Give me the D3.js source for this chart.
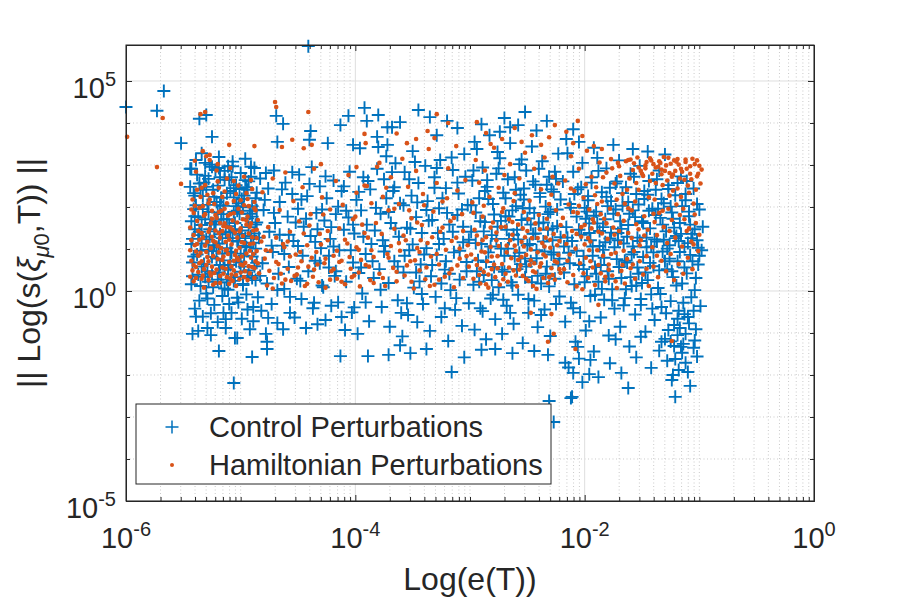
<!DOCTYPE html>
<html><head><meta charset="utf-8">
<script src="https://cdn.jsdelivr.net/npm/d3@7"></script>
<style>
body{margin:0;background:#fff}
svg{display:block}
text{font-family:"Liberation Sans",Arial,Helvetica,sans-serif;fill:#262626}
</style>
</head><body>
<svg id="chart" width="900" height="600"></svg>
<script>
// ---- tick labels (exponents of 10) ----
const xTickExps = [-6, -4, -2, 0];
const yTickExps = [-5, 0, 5];
const legendLabels = ["Control Perturbations", "Hamiltonian Perturbations"];
const xTitle = "Log(e(T))";

// ---- data: [log10 e(T), log10 ||Log(s)||] ----
const controlLog = [
[-5.44,2.91],[-5.43,1.12],[-5.42,0.35],[-5.41,2.33],[-5.40,-0.42],[-5.40,1.78],[-5.39,3.12],[-5.38,0.87],[-5.37,-0.95],[-5.36,2.56],[-5.36,1.41],[-5.35,0.12],[-5.34,3.28],[-5.33,1.95],[-5.33,-0.61],[-5.32,0.64],[-5.31,2.74],[-5.30,1.23],[-5.29,-0.18],[-5.29,2.05],[-5.28,0.98],[-5.27,3.01],[-5.26,-1.05],[-5.26,1.62],[-5.25,0.41],[-5.24,2.41],[-5.23,-0.33],[-5.23,1.09],[-5.22,2.88],[-5.21,0.77],[-5.20,1.87],[-5.20,-0.74],[-5.19,3.19],[-5.18,1.35],[-5.17,0.21],[-5.17,2.22],[-5.16,-0.12],[-5.15,1.71],[-5.14,2.65],[-5.14,0.55],[-5.13,-0.88],[-5.12,1.02],[-5.11,2.97],[-5.11,0.03],[-5.10,1.54],[-5.09,2.38],[-5.08,-0.52],[-5.08,0.91],[-5.07,3.08],[-5.06,1.88],[-5.05,0.33],[-5.05,-1.12],[-5.04,2.52],[-5.03,1.19],[-5.02,-0.27],[-5.02,2.09],[-5.01,0.68],[-5.00,2.81],[-4.99,1.44],[-4.99,-0.66],[-4.98,0.14],[-4.97,2.27],[-4.96,1.07],[-4.96,3.15],[-4.95,-0.08],[-4.94,1.73],[-4.93,0.49],[-4.93,2.61],[-4.92,-0.91],[-4.91,1.31],[-4.90,2.02],[-4.90,0.82],[-4.89,-0.38],[-4.88,2.93],[-4.87,1.58],[-4.87,0.26],[-4.86,2.34],[-4.85,-0.15],
[-5.43,1.66],[-5.41,0.82],[-5.39,2.04],[-5.37,1.33],[-5.35,2.41],[-5.34,0.58],[-5.31,1.71],[-5.30,2.48],[-5.28,0.22],[-5.27,1.47],[-5.25,2.96],[-5.24,0.95],[-5.22,1.58],[-5.21,2.12],[-5.19,0.44],[-5.18,2.71],[-5.16,0.89],[-5.15,2.03],[-5.13,1.39],[-5.12,0.27],[-5.10,2.64],[-5.09,0.62],[-5.07,1.26],[-5.06,2.45],[-5.04,0.71],[-5.03,1.91],[-5.01,1.36],[-5.00,0.46],[-4.98,1.99],[-4.97,0.84],[-4.95,2.47],[-4.94,0.36],[-4.92,1.84],[-4.91,2.72],[-4.89,1.15],[-4.88,0.59],[-4.86,1.92],
[-5.21,1.04],[-5.38,2.77],[-4.97,0.58],[-5.12,2.33],[-5.43,0.16],[-5.05,1.62],[-4.91,2.96],[-5.29,0.47],[-5.17,1.83],[-5.36,-0.23],[-4.88,1.37],[-5.08,2.71],[-5.24,0.09],[-5.41,1.95],[-4.94,-0.44],[-5.15,0.73],[-5.32,2.58],[-5.02,1.18],[-4.86,0.67],[-5.27,1.29],[-5.44,2.48],[-5.10,-0.31],[-4.99,2.19],[-5.19,2.93],[-5.35,0.96],[-4.93,1.52],[-5.06,0.24],[-5.23,2.24],[-5.40,1.47],[-5.13,-0.67],[-4.90,0.31],[-5.31,3.05],[-5.04,2.02],[-5.18,0.62],[-5.37,1.76],[-4.96,2.64],[-5.26,-0.53],[-5.09,1.41],[-5.42,0.68],[-5.00,0.89],[-5.20,2.51],[-4.87,2.21],[-5.34,1.13],[-5.14,2.86],[-5.03,-0.16],[-5.28,1.88],[-4.95,1.04],[-5.39,-0.61],[-5.11,0.51],[-5.22,1.66],[-4.89,-0.72],[-5.33,2.26],[-5.07,2.97],[-5.16,1.26],[-5.43,2.91],[-4.98,0.17],[-5.25,0.81],[-5.01,2.43],[-5.30,-0.06],[-4.92,1.91],[-5.37,0.39],[-5.12,1.71],[-5.20,0.27],[-5.05,1.47],[-5.34,1.57],[-4.96,1.26],[-5.18,2.04],[-5.28,2.67],[-5.09,0.93],[-5.40,2.27],[-4.90,1.77],[-5.23,1.42],[-5.14,0.06],[-5.01,1.84],[-5.31,0.34],[-4.87,1.01],[-5.42,1.24],[-5.06,2.23],[-5.19,1.13],[-4.94,2.41],
[-5.06,-2.19],[-4.90,-1.57],[-5.19,-1.43],[-4.77,-1.21],[-4.77,-1.38],[-5.03,-1.12],[-5.29,-0.88],[-5.15,-0.52],[-5.42,-1.02],
[-6.00,4.38],[-5.73,4.29],[-5.67,4.76],[-5.52,3.52],[-5.36,4.10],[-5.30,4.19],[-5.25,3.67],
[-4.84,1.27],[-4.83,2.68],[-4.82,-0.47],[-4.81,0.66],[-4.80,1.93],[-4.78,-1.02],[-4.77,0.18],[-4.76,2.44],[-4.75,1.41],[-4.73,-0.31],[-4.72,0.93],[-4.71,2.87],[-4.70,1.62],[-4.68,-0.76],[-4.67,0.41],[-4.66,2.12],[-4.64,1.08],[-4.63,-0.91],[-4.62,0.05],[-4.61,2.58],[-4.59,1.77],[-4.58,0.57],[-4.57,-0.52],[-4.55,2.31],[-4.54,1.19],[-4.53,-0.63],[-4.51,0.29],[-4.50,1.96],[-4.49,2.77],[-4.47,-0.19],[-4.46,0.84],[-4.45,1.53],[-4.43,-0.88],[-4.42,2.26],[-4.41,0.47],[-4.39,1.31],[-4.38,2.95],[-4.37,-0.41],[-4.35,0.72],[-4.34,1.86],[-4.33,-0.79],[-4.31,2.49],[-4.30,1.02],[-4.29,0.13],[-4.27,1.68],[-4.26,-0.69],[-4.25,2.21],[-4.23,0.56],[-4.22,1.24],[-4.21,-0.35],[-4.19,2.63],[-4.18,0.36],[-4.17,1.83],[-4.15,-0.27],[-4.14,0.97],[-4.13,-1.55],[-4.12,2.38],[-4.10,1.46],[-4.09,-0.93],[-4.08,0.22],[-4.06,1.75],[-4.05,2.84],[-4.03,-0.51],[-4.02,0.68],[-4.01,1.37],[-3.99,2.17],[-3.98,-1.02],[-3.97,0.43],[-3.95,1.92],[-3.94,-0.06],[-3.93,2.71],[-3.91,0.88],[-3.90,1.58],[-3.88,-0.72],[-3.87,2.42],[-3.86,1.12],[-3.84,0.31],[-3.89,-1.55],[-3.82,1.98],[-3.81,2.91],
[-4.52,1.63],[-4.17,0.47],[-4.79,2.17],[-3.93,1.29],[-4.36,-0.28],[-4.64,2.42],[-4.08,1.91],[-4.48,0.24],[-3.85,0.71],[-4.73,1.08],[-4.26,2.73],[-4.01,-0.39],[-4.58,1.34],[-4.31,0.66],[-4.83,0.36],[-3.97,2.36],[-4.43,1.72],[-4.12,-0.62],[-4.68,0.02],[-4.21,1.52],[-3.89,2.62],[-4.55,2.83],[-4.35,1.17],[-4.76,-0.64],[-4.04,0.97],[-4.47,2.18],[-3.83,1.44],[-4.62,0.88],[-4.28,0.09],[-4.15,2.01],[-4.71,1.86],[-3.95,0.56],[-4.40,2.55],[-4.19,1.06],[-4.57,-0.14],[-4.86,1.63],[-4.10,2.49],[-4.33,1.47],[-3.91,-0.27],[-4.66,1.34],[-4.23,0.84],[-4.50,1.07],[-4.02,1.58],[-4.78,2.81],[-4.29,1.94],
[-4.69,4.17],[-4.63,3.98],[-4.68,3.55],[-4.39,3.81],[-4.40,3.60],[-4.24,3.52],[-4.13,3.95],[-4.06,4.17],[-3.92,4.36],[-3.80,4.19],[-3.90,4.05],[-3.72,3.90],[-3.81,3.67],[-4.02,3.48],[-3.72,3.48],[-3.96,3.40],[-3.80,3.43],[-4.41,5.83],
[-3.79,0.52],[-3.78,1.84],[-3.77,-0.38],[-3.75,2.66],[-3.74,1.07],[-3.73,3.21],[-3.71,0.19],[-3.70,-0.85],[-3.69,1.62],[-3.67,2.38],[-3.66,0.71],[-3.65,3.04],[-3.63,-0.22],[-3.62,1.29],[-3.61,2.09],[-3.59,-1.08],[-3.58,0.44],[-3.57,2.83],[-3.55,1.51],[-3.54,-0.57],[-3.53,0.97],[-3.51,2.27],[-3.50,3.33],[-3.49,0.08],[-3.47,1.76],[-3.46,-0.74],[-3.45,2.57],[-3.43,0.63],[-3.42,1.38],[-3.41,-0.31],[-3.39,2.98],[-3.38,1.02],[-3.37,2.14],[-3.35,-0.95],[-3.34,0.35],[-3.33,1.69],[-3.31,2.71],[-3.30,-0.14],[-3.29,0.86],[-3.27,1.97],[-3.26,3.12],[-3.25,-0.62],[-3.23,1.24],[-3.22,0.51],[-3.21,2.45],[-3.19,-1.19],[-3.18,1.58],[-3.17,0.02],[-3.15,2.88],[-3.14,0.92],[-3.13,-0.45],[-3.11,1.81],[-3.10,2.32],[-3.09,0.27],[-3.07,-0.83],[-3.06,1.16],[-3.05,3.26],[-3.03,0.69],[-3.02,2.05],[-3.01,-0.29],
[-3.52,1.48],[-3.21,0.71],[-3.68,2.83],[-3.07,1.94],[-3.44,0.23],[-3.76,1.21],[-3.31,2.46],[-3.12,-0.17],[-3.58,2.04],[-3.27,1.12],[-3.63,0.58],[-3.04,2.72],[-3.48,3.07],[-3.18,0.41],[-3.71,1.88],[-3.36,1.67],[-3.09,0.96],[-3.55,-0.29],[-3.24,2.21],[-3.66,2.47],[-3.40,0.87],[-3.15,1.41],[-3.78,0.03],[-3.29,2.93],[-3.03,0.47],[-3.50,1.11],[-3.20,1.86],[-3.60,-0.52],[-3.33,0.62],[-3.11,2.58],[-3.73,2.21],[-3.46,2.11],[-3.22,-0.41],[-3.57,0.84],[-3.06,1.53],[-3.38,1.93],[-3.65,1.49],[-3.16,3.18],[-3.42,-0.07],[-3.28,1.38],[-3.01,1.22],[-3.53,2.66],[-3.75,0.94],[-3.25,0.18],[-3.47,0.44],
[-3.61,4.02],[-3.68,3.90],[-3.35,4.14],[-3.29,3.71],[-3.11,3.88],[-2.96,3.55],[-3.45,4.31],[-3.20,4.05],
[-3.52,-1.48],[-3.38,-1.38],[-3.16,-1.93],[-3.71,-1.52],[-3.05,-1.58],[-3.61,-1.29],
[-2.99,1.41],[-2.98,2.63],[-2.97,0.15],[-2.96,-0.92],[-2.95,1.87],[-2.94,3.38],[-2.93,0.73],[-2.92,2.21],[-2.91,-0.41],[-2.90,1.12],[-2.89,2.94],[-2.88,0.38],[-2.87,1.64],[-2.86,-1.15],[-2.85,2.48],[-2.84,0.92],[-2.83,3.71],[-2.82,-0.18],[-2.81,1.33],[-2.80,2.07],[-2.79,0.57],[-2.78,-0.67],[-2.77,2.79],[-2.76,1.53],[-2.75,0.09],[-2.74,3.16],[-2.73,1.01],[-2.72,-1.02],[-2.71,2.34],[-2.70,0.46],[-2.69,1.78],[-2.68,-0.35],[-2.67,2.66],[-2.66,1.24],[-2.65,3.52],[-2.64,0.21],[-2.63,1.92],[-2.62,-0.78],[-2.61,0.83],[-2.60,2.41],[-2.59,1.46],[-2.58,-0.09],[-2.57,3.02],[-2.56,0.64],[-2.55,1.69],[-2.54,-1.24],[-2.53,2.18],[-2.52,0.33],[-2.51,2.87],[-2.50,1.09],[-2.49,-0.52],[-2.48,1.97],[-2.47,0.71],[-2.46,3.44],[-2.45,1.36],[-2.44,-0.23],[-2.43,2.53],[-2.42,0.97],[-2.41,-0.86],[-2.40,1.61],[-2.39,2.24],[-2.38,0.18],[-2.37,3.09],[-2.36,1.18],[-2.35,-0.44],[-2.34,2.01],[-2.33,0.58],[-2.32,1.83],[-2.31,2.72],[-2.30,-1.07],[-2.29,0.87],[-2.28,1.49],[-2.27,2.36],[-2.26,0.29],[-2.25,-0.31],[-2.24,1.94],[-2.23,3.27],[-2.22,0.77],[-2.21,1.28],
[-2.66,1.77],[-2.41,0.36],[-2.87,2.38],[-2.28,1.21],[-2.55,3.13],[-2.94,0.47],[-2.33,2.53],[-2.71,-0.21],[-2.47,1.58],[-2.82,1.06],[-2.23,0.63],[-2.60,2.02],[-2.38,-0.57],[-2.91,1.66],[-2.52,0.77],[-2.75,2.92],[-2.30,1.88],[-2.63,0.13],[-2.45,2.61],[-2.86,0.69],[-2.21,2.18],[-2.58,1.23],[-2.97,2.87],[-2.35,0.94],[-2.68,1.46],[-2.49,-0.19],[-2.79,1.82],[-2.26,2.84],[-2.54,1.97],[-2.89,-0.48],[-2.43,1.37],[-2.72,0.51],[-2.31,0.11],[-2.61,2.71],[-2.84,2.19],[-2.24,1.54],[-2.51,0.58],[-2.77,1.24],[-2.39,2.33],[-2.95,1.14],[-2.65,-0.52],[-2.29,2.42],[-2.57,0.91],[-2.81,0.26],[-2.44,1.86],[-2.69,2.21],[-2.36,1.63],[-2.92,0.22],[-2.53,2.44],[-2.22,-0.13],[-2.76,3.31],[-2.48,1.12],[-2.62,1.34],[-2.34,0.41],[-2.88,1.42],[-2.56,2.29],[-2.42,0.78],[-2.73,1.67],[-2.27,0.92],[-2.99,2.04],[-2.59,0.52],[-2.40,2.91],[-2.80,-0.09],[-2.46,0.21],[-2.67,1.01],[-2.32,1.46],[-2.85,2.64],[-2.50,1.73],[-2.25,2.67],[-2.70,0.84],
[-2.74,3.79],[-2.65,3.90],[-2.70,4.12],[-2.58,3.95],[-2.42,3.82],[-2.90,3.97],[-2.33,4.05],[-2.52,4.26],
[-2.90,-1.40],[-2.63,-1.48],[-2.44,-1.43],[-2.32,-1.52],[-2.17,-1.71],[-2.10,-1.95],[-2.02,-2.17],[-1.96,-1.98],[-2.31,-2.62],[-2.12,-2.55],[-2.27,-3.12],[-2.78,-1.38],
[-2.19,2.61],[-2.18,0.44],[-2.17,-0.73],[-2.16,1.52],[-2.15,3.28],[-2.14,0.91],[-2.13,2.07],[-2.12,-0.28],[-2.11,1.19],[-2.10,2.84],[-2.09,0.16],[-2.08,-1.21],[-2.07,1.77],[-2.06,2.42],[-2.05,0.62],[-2.04,-0.51],[-2.03,1.34],[-2.02,3.05],[-2.01,0.83],[-2.00,1.98],[-1.99,-0.94],[-1.98,0.35],[-1.97,2.26],[-1.96,1.61],[-1.95,-0.12],[-1.94,2.71],[-1.93,1.06],[-1.92,-1.44],[-1.91,0.57],[-1.90,1.89],[-1.89,3.17],[-1.88,0.22],[-1.87,1.43],[-1.86,-0.63],[-1.85,2.35],[-1.84,0.98],[-1.83,-0.21],[-1.82,1.71],[-1.81,2.92],[-1.80,0.47],[-1.79,-1.06],[-1.78,1.25],[-1.77,2.14],[-1.76,0.04],[-1.75,1.84],[-1.74,-0.42],[-1.73,2.56],[-1.72,0.76],[-1.71,1.38],[-1.70,3.11],[-1.69,-0.85],[-1.68,0.31],[-1.67,2.03],[-1.66,1.13],[-1.65,-0.17],[-1.64,2.47],[-1.63,0.68],[-1.62,1.57],[-1.61,-1.32],[-1.60,2.79],[-1.59,0.12],[-1.58,1.92],[-1.57,0.93],[-1.56,-0.56],[-1.55,2.31],[-1.54,1.27],[-1.53,0.41],[-1.52,2.98],[-1.51,-0.33],[-1.50,1.66],[-1.49,0.81],[-1.48,2.19],[-1.47,-0.97],[-1.46,1.04],[-1.45,0.26],[-1.44,2.62],[-1.43,1.49],[-1.42,-0.08],[-1.41,1.96],[-1.40,0.59],[-1.39,-0.69],[-1.38,2.41],[-1.37,1.18],[-1.36,0.07],[-1.35,2.87],[-1.34,1.74],[-1.33,-0.38],[-1.32,0.94],[-1.31,2.09],[-1.30,-1.14],[-1.29,1.42],[-1.28,0.52],[-1.27,2.52],[-1.26,1.09],[-1.25,-0.24],[-1.24,1.87],[-1.23,0.33],[-1.22,-0.81],[-1.21,2.28],[-1.20,1.31],[-1.19,0.71],[-1.18,-0.47],[-1.17,1.62],[-1.16,2.73],[-1.15,0.18],[-1.14,-1.26],[-1.13,1.05],[-1.12,2.16],[-1.11,0.42],[-1.10,-0.62],[-1.09,1.78],[-1.08,0.86],[-1.07,-0.15],[-1.06,1.36],[-1.05,2.44],[-1.04,0.02],[-1.03,-0.91],[-1.02,1.21],[-1.01,0.63],[-1.00,1.94],[-0.99,-0.36],[-0.98,0.97],[-0.97,1.53],
[-1.84,1.52],[-1.47,0.44],[-2.03,2.47],[-1.21,1.26],[-1.66,-0.34],[-1.12,2.31],[-1.93,0.84],[-1.38,1.81],[-2.15,1.27],[-1.57,2.72],[-1.03,0.31],[-1.74,1.04],[-1.29,-0.53],[-1.99,1.72],[-1.52,1.19],[-1.17,0.93],[-1.88,2.86],[-1.43,0.67],[-2.10,-0.41],[-1.62,2.12],[-1.08,1.58],[-1.79,0.29],[-1.33,2.19],[-1.96,1.38],[-1.26,0.77],[-1.69,1.66],[-2.07,0.96],[-1.14,-0.28],[-1.55,0.13],[-1.81,2.24],[-1.39,1.23],[-1.02,2.07],[-1.72,2.61],[-2.01,0.52],[-1.48,2.38],[-1.23,1.72],[-1.91,-0.09],[-1.59,0.87],[-1.10,1.14],[-1.77,1.39],[-1.35,0.49],[-2.12,1.98],[-1.63,1.29],[-1.05,-0.47],[-1.86,0.62],[-1.44,1.91],[-1.19,2.57],[-1.97,2.16],[-1.51,-0.19],[-1.28,1.01],[-1.70,0.57],[-2.05,1.46],[-1.37,2.66],[-1.00,0.84],[-1.82,1.16],[-1.56,1.76],[-1.13,0.56],[-1.94,2.58],[-1.41,-0.42],[-1.67,2.33],[-1.25,2.01],[-2.18,1.06],[-1.60,0.33],[-1.09,1.89],[-1.76,-0.22],[-1.32,1.58],[-1.89,1.61],[-1.46,1.27],[-1.16,1.36],[-2.00,0.21],[-1.53,2.06],[-1.20,0.13],[-1.73,1.94],[-1.40,0.92],[-1.04,1.47],[-1.85,0.05],[-1.58,1.06],[-1.27,2.43],[-1.95,1.21],[-1.65,0.72],[-1.11,2.62],[-1.49,1.62],[-1.80,2.02],[-1.34,-0.07],[-2.09,2.31],[-1.61,1.84],[-1.18,1.19],[-1.90,0.41],[-1.45,2.29],[-1.06,0.71],[-1.71,1.21],[-1.30,0.71],[-1.98,1.89],[-1.54,0.56],[-1.22,1.51],[-1.83,0.79],[-1.36,1.96],[-1.01,1.03],[-1.64,0.04],[-2.13,0.66],[-1.42,1.06],[-1.15,2.02],[-1.78,2.46],[-1.50,0.19],[-1.24,0.47],[-1.92,1.79],[-1.68,1.48],[-1.07,1.26],[-1.87,1.07],[-1.31,1.22],
[-1.19,-0.66],[-1.12,-1.02],[-1.27,-0.93],[-1.16,-1.33],[-1.09,-0.77],[-1.33,-1.21],[-1.73,-1.15],[-1.96,-0.72],[-2.06,-1.33],[-1.51,-1.09],[-1.04,-1.18],[-1.21,-1.62],
[-2.14,-1.82],[-2.05,-1.61],[-1.95,-1.64],[-1.88,-2.05],[-1.78,-1.72],[-1.68,-1.95],[-1.62,-2.31],[-1.55,-1.58],[-1.42,-1.83],[-1.35,-1.42],[-1.28,-1.66],[-1.24,-2.12],[-1.21,-2.52],[-1.18,-1.88],[-1.15,-1.47],[-1.12,-1.71],[-1.10,-1.93],[-1.08,-2.26],[-1.05,-1.35],[-1.02,-1.56],[-1.19,-1.05],[-1.17,-0.88],[-1.22,-1.31],[-1.13,-0.55],[-1.25,-1.20],[-1.23,-2.00],[-2.11,-2.52],
[-2.16,3.62],[-2.05,3.55],[-1.92,3.41],[-1.75,3.48],[-1.58,3.38],[-1.45,3.32],[-1.30,3.25],[-2.10,3.85]
];

const hamiltonianLog = [
[-5.44,1.51],[-5.43,0.72],[-5.42,2.18],[-5.41,0.23],[-5.40,1.09],[-5.39,2.84],[-5.38,1.67],[-5.37,0.45],[-5.36,1.98],[-5.35,0.91],[-5.34,2.46],[-5.33,1.27],[-5.32,0.08],[-5.31,1.83],[-5.30,0.62],[-5.29,2.29],[-5.28,1.41],[-5.27,3.12],[-5.26,0.37],[-5.25,1.72],[-5.24,0.83],[-5.23,2.07],[-5.22,1.16],[-5.21,0.51],[-5.20,2.61],[-5.19,1.38],[-5.18,0.19],[-5.17,1.91],[-5.16,0.74],[-5.15,1.54],[-5.14,2.37],[-5.13,0.97],[-5.12,0.33],[-5.11,1.79],[-5.10,1.22],[-5.09,2.93],[-5.08,0.58],[-5.07,1.46],[-5.06,2.14],[-5.05,0.86],[-5.04,0.12],[-5.03,1.63],[-5.02,2.51],[-5.01,1.03],[-5.00,0.44],[-4.99,1.87],[-4.98,1.31],[-4.97,2.72],[-4.96,0.67],[-4.95,1.58],[-4.94,0.26],[-4.93,2.02],[-4.92,1.12],[-4.91,0.79],[-4.90,2.43],[-4.89,1.44],[-4.88,0.54],[-4.87,1.92],[-4.86,0.95],[-4.85,1.69],
[-5.43,1.94],[-5.41,1.33],[-5.39,0.57],[-5.38,2.41],[-5.36,1.22],[-5.34,0.29],[-5.33,2.02],[-5.31,1.08],[-5.30,3.21],[-5.28,0.71],[-5.27,2.18],[-5.25,1.29],[-5.24,0.15],[-5.22,1.81],[-5.21,2.87],[-5.19,0.92],[-5.18,1.62],[-5.16,2.24],[-5.15,0.41],[-5.13,1.17],[-5.12,2.68],[-5.10,0.69],[-5.09,1.51],[-5.07,0.24],[-5.06,1.85],[-5.04,2.31],[-5.03,0.79],[-5.01,1.42],[-5.00,2.16],[-4.98,0.61],[-4.97,1.14],[-4.95,2.33],[-4.94,1.77],[-4.92,0.42],[-4.91,1.61],[-4.89,0.88],[-4.88,2.12],[-4.86,1.26],
[-5.22,1.44],[-5.37,0.84],[-4.98,1.71],[-5.13,0.53],[-5.41,1.86],[-5.04,0.96],[-4.90,1.28],[-5.28,2.09],[-5.17,1.02],[-5.33,0.37],[-4.94,2.19],[-5.09,1.83],[-5.25,0.58],[-5.43,1.21],[-5.01,0.28],[-5.19,2.46],[-4.87,0.71],[-5.35,1.56],[-5.11,1.32],[-5.30,0.93],[-4.96,0.47],[-5.06,2.62],[-5.21,1.74],[-5.39,0.31],[-4.92,1.53],[-5.15,0.82],[-5.27,1.48],[-5.02,1.96],[-5.44,0.97],[-5.08,0.39],[-4.88,1.97],[-5.32,1.79],[-5.18,0.36],[-4.99,1.16],[-5.24,2.33],[-5.36,0.66],[-5.12,2.09],[-4.95,0.89],[-5.29,1.17],[-5.05,1.39],[-5.40,2.03],[-5.20,0.76],[-4.91,2.64],[-5.14,1.61],[-5.34,1.38],[-5.00,0.63],[-5.26,1.02],[-5.10,0.17],[-4.89,1.13],[-5.38,1.12],[-5.07,1.68],[-5.23,0.43],[-4.97,2.04],[-5.31,2.52],[-5.16,1.43],[-5.42,0.49],[-5.03,1.27],[-4.93,0.59],[-5.19,1.88],[-5.28,0.26],[-5.12,0.98],[-5.35,2.24],[-4.86,1.46],[-5.06,0.72],[-5.25,1.91],
[-5.32,0.52],[-5.18,1.27],[-5.04,0.38],[-4.93,1.37],[-5.41,0.62],[-5.26,1.61],[-5.11,0.88],[-4.97,0.33],[-5.37,1.43],[-5.22,0.19],[-5.08,1.11],[-4.90,0.57],[-5.29,0.81],[-5.14,1.96],[-5.00,1.49],[-5.44,0.34],[-5.20,1.07],[-5.06,0.49],[-4.95,1.68],[-5.34,0.71],[-5.16,0.56],[-5.02,0.74],[-4.88,0.31],[-5.27,0.44],[-5.12,1.52],[-5.39,0.94],[-4.99,0.82],[-5.24,1.19],[-5.09,0.29],[-4.92,0.96],
[-5.35,4.21],[-5.31,4.26],[-5.33,3.33],[-5.10,3.48],[-4.88,3.45],[-5.27,3.24],[-5.40,3.10],[-5.20,3.02],[-5.99,3.67],[-5.73,2.95],[-5.68,4.12],[-5.52,2.55],
[-4.84,0.42],[-4.82,1.18],[-4.81,2.35],[-4.79,0.77],[-4.77,0.13],[-4.76,1.52],[-4.74,0.96],[-4.72,2.68],[-4.71,0.31],[-4.69,1.27],[-4.67,0.64],[-4.66,1.93],[-4.64,0.18],[-4.62,1.04],[-4.61,2.82],[-4.59,0.53],[-4.57,1.41],[-4.56,0.24],[-4.54,2.14],[-4.52,0.87],[-4.51,0.39],[-4.49,1.66],[-4.47,0.71],[-4.46,2.47],[-4.44,0.12],[-4.42,1.09],[-4.41,0.58],[-4.39,1.83],[-4.37,0.34],[-4.36,2.91],[-4.34,0.93],[-4.32,0.21],[-4.31,1.36],[-4.29,2.23],[-4.27,0.66],[-4.26,0.08],[-4.24,1.21],[-4.22,1.94],[-4.21,0.47],[-4.19,0.84],[-4.17,2.62],[-4.16,0.29],[-4.14,1.49],[-4.12,0.72],[-4.11,2.05],[-4.09,0.16],[-4.07,1.13],[-4.06,2.76],[-4.04,0.53],[-4.02,1.71],[-4.01,0.37],[-3.99,2.34],[-3.97,0.98],[-3.96,0.11],[-3.94,1.58],[-3.92,2.51],[-3.91,0.62],[-3.89,1.27],[-3.87,0.26],[-3.86,2.09],[-3.84,0.81],[-3.82,1.62],[-3.81,2.96],
[-4.75,0.48],[-4.48,0.93],[-4.22,0.27],[-3.95,0.74],[-4.63,1.12],[-4.36,0.51],[-4.09,1.22],[-3.84,0.19],[-4.69,0.69],[-4.42,0.17],[-4.16,0.96],[-3.88,0.58],[-4.57,0.82],[-4.30,1.11],[-4.03,0.33],[-4.80,1.29],[-4.53,0.36],[-4.26,0.77],[-3.99,1.04],[-4.72,0.06],[-4.45,1.37],[-4.19,0.52],[-3.92,1.38],[-4.65,0.41],[-4.38,0.79],[-4.12,0.22],[-3.86,0.97],[-4.59,1.18],[-4.33,0.63],[-4.05,0.81],[-4.78,0.97],[-4.50,0.56],[-4.24,1.43],[-3.97,0.44],[-4.61,0.27],[-4.14,0.69],[-4.40,1.56],[-4.85,0.66],[-4.00,1.77],[-4.28,1.82],
[-4.70,4.50],[-4.69,4.38],[-4.41,4.26],[-4.55,3.60],[-4.64,3.43],[-4.45,3.40],[-4.38,3.48],[-4.30,3.02],[-3.99,2.95],[-3.92,3.74],[-3.91,3.52],[-3.90,2.50],[-3.79,3.05],
[-3.79,0.41],[-3.77,1.36],[-3.76,2.24],[-3.74,0.12],[-3.72,0.88],[-3.71,1.92],[-3.69,2.71],[-3.67,0.55],[-3.66,1.48],[-3.64,0.23],[-3.62,2.07],[-3.61,0.96],[-3.59,3.15],[-3.57,0.37],[-3.56,1.21],[-3.54,2.48],[-3.52,0.71],[-3.51,1.73],[-3.49,0.06],[-3.47,2.86],[-3.46,1.02],[-3.44,0.49],[-3.42,1.57],[-3.41,2.31],[-3.39,0.28],[-3.37,1.14],[-3.36,3.38],[-3.34,0.82],[-3.32,1.89],[-3.31,0.15],[-3.29,2.57],[-3.27,0.63],[-3.26,1.41],[-3.24,2.13],[-3.22,0.34],[-3.21,0.98],[-3.19,2.92],[-3.17,1.66],[-3.16,0.52],[-3.14,0.09],[-3.12,1.27],[-3.11,2.39],[-3.09,0.77],[-3.07,1.83],[-3.06,0.31],[-3.04,2.64],[-3.02,1.09],[-3.01,0.58],
[-3.55,0.61],[-3.33,1.28],[-3.71,0.79],[-3.18,0.42],[-3.46,1.63],[-3.62,1.14],[-3.09,1.01],[-3.38,0.56],[-3.76,0.31],[-3.24,1.51],[-3.51,0.22],[-3.03,0.83],[-3.66,1.96],[-3.29,0.88],[-3.44,0.93],[-3.14,1.74],[-3.58,1.32],[-3.35,0.12],[-3.69,1.07],[-3.20,2.21],[-3.48,0.73],[-3.06,1.43],[-3.73,2.46],[-3.27,0.27],[-3.53,1.92],[-3.11,0.61],[-3.40,2.04],[-3.64,0.46],[-3.16,1.19],[-3.43,1.21],
[-3.64,3.75],[-3.55,3.52],[-3.37,3.81],[-3.29,4.21],[-3.19,4.00],[-3.31,3.64],[-3.12,3.45],[-3.47,3.62],
[-2.99,0.87],[-2.98,2.11],[-2.97,0.29],[-2.96,1.46],[-2.95,3.12],[-2.94,0.62],[-2.93,1.12],[-2.92,2.58],[-2.91,0.18],[-2.90,0.94],[-2.89,1.77],[-2.88,0.45],[-2.87,2.87],[-2.86,1.28],[-2.85,0.71],[-2.84,0.08],[-2.83,2.24],[-2.82,1.05],[-2.81,0.52],[-2.80,1.63],[-2.79,3.41],[-2.78,0.33],[-2.77,1.21],[-2.76,0.83],[-2.75,2.46],[-2.74,0.15],[-2.73,1.52],[-2.72,0.64],[-2.71,1.97],[-2.70,2.76],[-2.69,0.41],[-2.68,1.08],[-2.67,0.22],[-2.66,1.71],[-2.65,3.02],[-2.64,0.78],[-2.63,1.34],[-2.62,0.49],[-2.61,2.33],[-2.60,0.96],[-2.59,0.11],[-2.58,1.58],[-2.57,2.68],[-2.56,0.61],[-2.55,1.17],[-2.54,0.36],[-2.53,1.88],[-2.52,3.29],[-2.51,0.86],[-2.50,1.43],[-2.49,0.24],[-2.48,2.15],[-2.47,0.73],[-2.46,1.26],[-2.45,0.47],[-2.44,2.91],[-2.43,1.61],[-2.42,0.05],[-2.41,0.92],[-2.40,1.81],[-2.39,0.58],[-2.38,2.42],[-2.37,1.14],[-2.36,0.31],[-2.35,3.18],[-2.34,0.82],[-2.33,1.49],[-2.32,0.19],[-2.31,2.07],[-2.30,1.03],[-2.29,0.54],[-2.28,2.72],[-2.27,1.36],[-2.26,0.27],[-2.25,1.92],[-2.24,0.68],[-2.23,2.56],[-2.22,1.19],[-2.21,0.43],
[-2.66,0.56],[-2.41,1.26],[-2.87,0.92],[-2.28,0.38],[-2.55,0.81],[-2.94,1.32],[-2.33,1.72],[-2.71,0.28],[-2.47,0.99],[-2.82,1.51],[-2.23,0.86],[-2.60,0.37],[-2.38,0.66],[-2.91,0.53],[-2.52,1.28],[-2.75,1.07],[-2.30,1.22],[-2.63,1.64],[-2.45,0.12],[-2.86,0.16],[-2.21,1.57],[-2.58,0.74],[-2.97,1.86],[-2.35,1.06],[-2.68,0.92],[-2.49,1.71],[-2.79,0.63],[-2.26,0.71],[-2.54,1.49],[-2.89,1.21],[-2.43,0.44],[-2.72,1.88],[-2.31,0.33],[-2.61,1.08],[-2.84,0.39],[-2.24,1.09],[-2.51,0.29],[-2.77,1.39],[-2.39,1.47],[-2.95,0.76],[-2.65,1.21],[-2.29,2.29],[-2.57,0.51],[-2.81,0.82],[-2.44,0.66],[-2.69,1.53],[-2.36,0.87],[-2.92,0.38],[-2.53,1.06],[-2.22,0.52],[-2.76,0.54],[-2.48,0.62],[-2.62,2.14],[-2.34,1.27],[-2.88,2.03],
[-2.94,4.02],[-2.86,3.76],[-2.72,3.62],[-2.61,3.88],[-2.55,3.55],[-2.46,3.71],[-2.38,3.48],[-2.31,3.66],[-2.26,3.95],[-2.82,3.50],
[-2.47,-0.52],[-2.29,-0.55],[-2.27,-1.02],[-2.32,-1.21],[-2.08,-1.38],[-1.88,-0.33],[-1.24,-1.19],
[-2.19,1.74],[-2.18,0.52],[-2.17,2.63],[-2.16,1.12],[-2.15,0.21],[-2.14,2.06],[-2.13,0.87],[-2.12,3.21],[-2.11,1.43],[-2.10,0.38],[-2.09,2.38],[-2.08,1.01],[-2.07,0.11],[-2.06,1.86],[-2.05,2.91],[-2.04,0.66],[-2.03,1.29],[-2.02,0.04],[-2.01,2.22],[-2.00,1.57],[-1.99,0.79],[-1.98,3.34],[-1.97,0.31],[-1.96,1.94],[-1.95,1.18],[-1.94,2.72],[-1.93,0.56],[-1.92,1.63],[-1.91,0.14],[-1.90,2.47],[-1.89,0.97],[-1.88,1.41],[-1.87,3.06],[-1.86,0.42],[-1.85,2.13],[-1.84,0.84],[-1.83,1.72],[-1.82,0.23],[-1.81,2.82],[-1.80,1.24],[-1.79,0.63],[-1.78,1.96],[-1.77,3.14],[-1.76,0.37],[-1.75,1.51],[-1.74,2.56],[-1.73,0.91],[-1.72,0.07],[-1.71,1.83],[-1.70,2.97],[-1.69,1.15],[-1.68,0.48],[-1.67,2.31],[-1.66,1.67],[-1.65,0.18],[-1.64,3.09],[-1.63,0.76],[-1.62,1.38],[-1.61,2.68],[-1.60,0.54],[-1.59,1.92],[-1.58,2.88],[-1.57,0.95],[-1.56,0.29],[-1.55,1.59],[-1.54,3.18],[-1.53,2.41],[-1.52,0.71],[-1.51,1.21],[-1.50,2.79],[-1.49,0.39],[-1.48,1.78],[-1.47,2.99],[-1.46,0.83],[-1.45,1.46],[-1.44,0.12],[-1.43,2.62],[-1.42,3.11],[-1.41,1.04],[-1.40,0.58],[-1.39,2.18],[-1.38,2.94],[-1.37,1.33],[-1.36,0.33],[-1.35,1.86],[-1.34,3.05],[-1.33,0.72],[-1.32,2.52],[-1.31,1.52],[-1.30,2.86],[-1.29,0.47],[-1.28,1.14],[-1.27,3.17],[-1.26,2.27],[-1.25,0.88],[-1.24,1.69],[-1.23,2.77],[-1.22,0.26],[-1.21,1.27],[-1.20,3.08],[-1.19,2.44],[-1.18,0.64],[-1.17,1.81],[-1.16,2.91],[-1.15,1.06],[-1.14,0.41],[-1.13,2.65],[-1.12,3.13],[-1.11,1.43],[-1.10,0.79],[-1.09,2.34],[-1.08,2.97],[-1.07,1.18],[-1.06,0.52],[-1.05,2.08],[-1.04,3.02],[-1.03,1.62],[-1.02,2.73],[-1.01,0.95],[-1.00,1.34],[-0.99,2.56],[-0.98,2.89],
[-1.84,2.71],[-1.47,2.92],[-2.03,1.52],[-1.21,2.86],[-1.66,0.96],[-1.12,3.07],[-1.93,1.71],[-1.38,2.57],[-2.15,0.72],[-1.57,3.04],[-1.03,2.41],[-1.74,1.34],[-1.29,2.99],[-1.99,2.54],[-1.52,1.09],[-1.17,2.68],[-1.88,0.62],[-1.43,3.16],[-2.10,1.88],[-1.62,1.97],[-1.08,2.79],[-1.79,0.51],[-1.33,2.78],[-1.96,0.97],[-1.26,1.43],[-1.69,2.74],[-2.07,1.36],[-1.14,1.96],[-1.55,2.57],[-1.81,1.61],[-1.39,1.64],[-1.02,3.11],[-1.72,2.18],[-2.01,0.42],[-1.48,1.32],[-1.23,2.39],[-1.91,2.28],[-1.59,1.26],[-1.10,2.51],[-1.77,0.88],[-1.35,3.09],[-2.12,2.44],[-1.63,2.41],[-1.05,1.11],[-1.86,1.83],[-1.44,2.23],[-1.19,3.14],[-1.97,1.26],[-1.51,2.86],[-1.28,2.63],[-1.70,1.43],[-2.05,2.03],[-1.37,0.84],[-1.00,2.98],[-1.82,0.34],[-1.56,2.13],[-1.13,1.71],[-1.94,1.49],[-1.41,2.79],[-1.67,0.62],[-1.25,3.03],[-2.18,1.31],[-1.60,3.13],[-1.09,1.49],[-1.76,2.92],[-1.32,1.91],[-1.89,2.07],[-1.46,0.53],[-1.16,2.24],[-2.00,1.11],[-1.53,1.47],[-1.20,2.06],[-1.73,0.23],[-1.40,1.84],[-1.04,1.82],[-1.85,1.37],[-1.58,0.63],[-1.27,1.96],[-1.95,0.71],[-1.65,2.08],
[-1.46,3.07],[-1.36,2.96],[-1.22,3.11],[-1.15,2.84],[-1.06,3.15],[-1.31,3.19],[-1.53,2.94],[-1.11,2.91],[-1.40,3.02],[-1.26,2.81],[-1.01,2.79],[-1.18,3.01],[-1.62,3.12],[-1.49,2.74],[-1.07,2.66],[-1.33,2.89],[-1.71,3.05],[-1.24,2.72],
[-2.16,3.79],[-2.02,3.69],[-2.10,3.52],[-1.92,3.45],[-1.85,3.38],[-2.06,4.05]
];

// ---- layout ----
const M = {left: 126, right: 814, top: 45, bottom: 501};
const blue = "#0072BD", orange = "#D95319", axisCol = "#262626";

const x = d3.scaleLog().domain([1e-6, 1]).range([M.left, M.right]);
const y = d3.scaleLog().domain([1e-5, Math.pow(10, 5.857)]).range([M.bottom, M.top]);

const svg = d3.select("#chart");

// tick positions
const xMajor = xTickExps.map(e => Math.pow(10, e));
const yMajor = yTickExps.map(e => Math.pow(10, e));
const xMinor = [];
for (let k = -6; k < 0; k++) {
  for (let m = 1; m <= 9; m++) {
    if (m === 1 && xTickExps.includes(k)) continue;
    xMinor.push(m * Math.pow(10, k));
  }
}
const yMinor = [];
for (let k = -4; k <= 5; k++) if (!yTickExps.includes(k)) yMinor.push(Math.pow(10, k));

// ---- grid ----
const grid = svg.append("g");
grid.selectAll(".xmg").data(xMinor).enter().append("line")
  .attr("x1", d => x(d)).attr("x2", d => x(d)).attr("y1", M.top).attr("y2", M.bottom)
  .attr("stroke", "#bdbdbd").attr("stroke-width", 0.8).attr("stroke-dasharray", "1,2.5");
grid.selectAll(".ymg").data(yMinor).enter().append("line")
  .attr("y1", d => y(d)).attr("y2", d => y(d)).attr("x1", M.left).attr("x2", M.right)
  .attr("stroke", "#bdbdbd").attr("stroke-width", 0.8).attr("stroke-dasharray", "1,2.5");
grid.selectAll(".xMg").data(xMajor).enter().append("line")
  .attr("x1", d => x(d)).attr("x2", d => x(d)).attr("y1", M.top).attr("y2", M.bottom)
  .attr("stroke", "#dedede").attr("stroke-width", 1);
grid.selectAll(".yMg").data(yMajor).enter().append("line")
  .attr("y1", d => y(d)).attr("y2", d => y(d)).attr("x1", M.left).attr("x2", M.right)
  .attr("stroke", "#dedede").attr("stroke-width", 1);

// ---- data marks ----
const plus = "M-6.5,0H6.5M0,-6.5V6.5";
svg.append("g").selectAll("path").data(controlLog).enter().append("path")
  .attr("d", plus)
  .attr("transform", d => `translate(${x(Math.pow(10, d[0]))},${y(Math.pow(10, d[1]))})`)
  .attr("stroke", blue).attr("stroke-width", 1.9).attr("fill", "none");

svg.append("g").selectAll("circle").data(hamiltonianLog).enter().append("circle")
  .attr("cx", d => x(Math.pow(10, d[0])))
  .attr("cy", d => y(Math.pow(10, d[1])))
  .attr("r", 2.3).attr("fill", orange);

// ---- axes (ticks inward, box) ----
function styleAxis(g) {
  g.selectAll("path.domain").attr("stroke", axisCol).attr("stroke-width", 1);
  g.selectAll(".tick line").attr("stroke", axisCol).attr("stroke-width", 1);
  g.selectAll(".tick text").remove();
}
const tl = 6, tm = 4;
svg.append("g").attr("transform", `translate(0,${M.bottom})`)
  .call(d3.axisBottom(x).tickValues(xMajor).tickSize(-tl).tickSizeOuter(0).tickFormat(() => "")).call(styleAxis);
svg.append("g").attr("transform", `translate(0,${M.bottom})`)
  .call(d3.axisBottom(x).tickValues(xMinor).tickSize(-tm).tickSizeOuter(0).tickFormat(() => "")).call(styleAxis);
svg.append("g").attr("transform", `translate(0,${M.top})`)
  .call(d3.axisTop(x).tickValues(xMajor).tickSize(-tl).tickSizeOuter(0).tickFormat(() => "")).call(styleAxis);
svg.append("g").attr("transform", `translate(0,${M.top})`)
  .call(d3.axisTop(x).tickValues(xMinor).tickSize(-tm).tickSizeOuter(0).tickFormat(() => "")).call(styleAxis);
svg.append("g").attr("transform", `translate(${M.left},0)`)
  .call(d3.axisLeft(y).tickValues(yMajor).tickSize(-tl).tickSizeOuter(0).tickFormat(() => "")).call(styleAxis);
svg.append("g").attr("transform", `translate(${M.left},0)`)
  .call(d3.axisLeft(y).tickValues(yMinor).tickSize(-tm).tickSizeOuter(0).tickFormat(() => "")).call(styleAxis);
svg.append("g").attr("transform", `translate(${M.right},0)`)
  .call(d3.axisRight(y).tickValues(yMajor).tickSize(-tl).tickSizeOuter(0).tickFormat(() => "")).call(styleAxis);
svg.append("g").attr("transform", `translate(${M.right},0)`)
  .call(d3.axisRight(y).tickValues(yMinor).tickSize(-tm).tickSizeOuter(0).tickFormat(() => "")).call(styleAxis);
svg.append("rect").attr("x", M.left).attr("y", M.top)
  .attr("width", M.right - M.left).attr("height", M.bottom - M.top)
  .attr("fill", "none").attr("stroke", axisCol).attr("stroke-width", 1);

// ---- tick labels ----
svg.append("g").selectAll("text").data(xTickExps).enter().append("text")
  .attr("x", d => x(Math.pow(10, d))).attr("y", 548).attr("text-anchor", "middle")
  .each(function(d) {
    const t = d3.select(this);
    t.append("tspan").attr("font-size", 29).text("10");
    t.append("tspan").attr("font-size", 20).attr("dy", -12).text(String(d));
  });
svg.append("g").selectAll("text").data(yTickExps).enter().append("text")
  .attr("x", 116).attr("y", d => y(Math.pow(10, d)) + 17).attr("text-anchor", "end")
  .each(function(d) {
    const t = d3.select(this);
    t.append("tspan").attr("font-size", 29).text("10");
    t.append("tspan").attr("font-size", 20).attr("dy", -12).text(String(d));
  });

// ---- axis titles ----
svg.append("text").attr("x", (M.left + M.right) / 2).attr("y", 590)
  .attr("text-anchor", "middle").attr("font-size", 32).text(xTitle);

const yt = svg.append("text").attr("transform", `translate(40,${(M.top + M.bottom) / 2}) rotate(-90)`)
  .attr("text-anchor", "middle").attr("font-size", 32);
yt.append("tspan").text("|| Log(s(");
yt.append("tspan").attr("font-style", "italic").text("ξ");
yt.append("tspan").attr("font-size", 22).attr("dy", 9).attr("font-style", "italic").text("μ");
yt.append("tspan").attr("font-size", 22).text("0");
yt.append("tspan").attr("dy", -9).text(",T)) ||");

// ---- legend ----
const lg = svg.append("g");
lg.append("rect").attr("x", 136).attr("y", 404).attr("width", 415).attr("height", 80)
  .attr("fill", "#fff").attr("stroke", axisCol).attr("stroke-width", 1);
lg.append("path").attr("d", plus).attr("transform", "translate(172,427)")
  .attr("stroke", blue).attr("stroke-width", 1.5).attr("fill", "none");
lg.append("circle").attr("cx", 172).attr("cy", 465).attr("r", 2.0).attr("fill", orange);
lg.selectAll("text").data(legendLabels).enter().append("text")
  .attr("x", 209).attr("y", (d, i) => 437 + i * 38).attr("font-size", 29).text(d => d);
</script>
</body></html>
